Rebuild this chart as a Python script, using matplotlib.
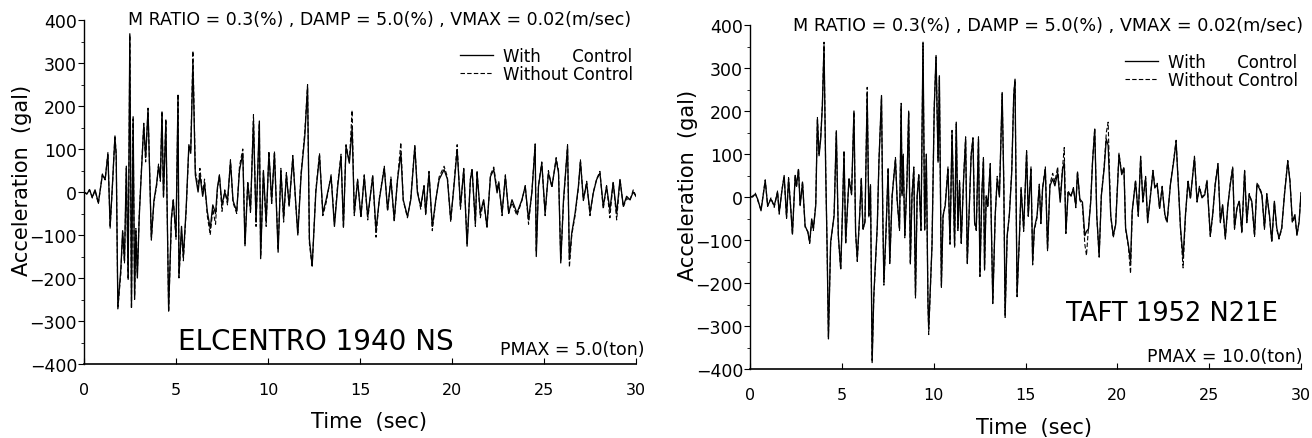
import matplotlib
matplotlib.use("Agg")
import matplotlib.pyplot as plt
from matplotlib.ticker import MultipleLocator

plt.rcParams["font.family"] = "DejaVu Sans"

# ---- ELCENTRO 1940 NS : tiempo (sec), aceleracion (gal) ----
t_el = [0.0, 0.15, 0.3, 0.45, 0.6, 0.78, 1.0, 1.15, 1.3, 1.42,
        1.55, 1.68, 1.75, 1.84, 2.0, 2.1, 2.2, 2.3, 2.4, 2.49,
        2.58, 2.67, 2.75, 2.82, 2.9, 3.0, 3.1, 3.25, 3.35, 3.48,
        3.56, 3.66, 3.8, 3.95, 4.05, 4.15, 4.24, 4.32, 4.45, 4.6,
        4.75, 4.85, 5.0, 5.11, 5.16, 5.3, 5.4, 5.55, 5.7, 5.8,
        5.92, 6.05, 6.2, 6.3, 6.45, 6.55, 6.7, 6.86, 7.0, 7.15,
        7.25, 7.36, 7.5, 7.65, 7.8, 7.96, 8.1, 8.3, 8.45, 8.63,
        8.75, 8.9, 9.05, 9.21, 9.35, 9.53, 9.6, 9.75, 9.9, 10.05,
        10.2, 10.35, 10.55, 10.7, 10.85, 11.0, 11.15, 11.35, 11.5, 11.62,
        11.8, 12.0, 12.15, 12.25, 12.4, 12.6, 12.8, 12.98, 13.16, 13.43,
        13.61, 13.79, 13.97, 14.1, 14.24, 14.42, 14.57, 14.69, 14.87, 15.05,
        15.23, 15.42, 15.69, 15.87, 16.05, 16.32, 16.5, 16.68, 16.86, 17.04,
        17.22, 17.35, 17.58, 17.76, 17.98, 18.12, 18.3, 18.48, 18.57, 18.75,
        18.93, 19.12, 19.3, 19.57, 19.75, 19.93, 20.1, 20.28, 20.46, 20.64,
        20.82, 21.0, 21.09, 21.27, 21.36, 21.54, 21.72, 21.9, 22.09, 22.27,
        22.45, 22.54, 22.72, 22.9, 23.08, 23.26, 23.53, 23.8, 23.98, 24.16,
        24.34, 24.52, 24.58, 24.7, 24.88, 25.06, 25.24, 25.43, 25.66, 25.79,
        25.91, 26.06, 26.28, 26.38, 26.51, 26.69, 26.87, 26.98, 27.14, 27.32,
        27.5, 27.68, 27.86, 28.04, 28.22, 28.4, 28.58, 28.76, 28.95, 29.13,
        29.31, 29.49, 29.67, 29.85, 30.0]
el_con = [0, -5, 5, -12, 5, -25, 40, 30, 88, -80,
          20, 128, 85, -268, -180, -90, -160, 60, -200, 368,
          -268, 175, -245, -90, -200, -60, 30, 155, 80, 192,
          60, -108, -20, 20, 60, 30, 185, -10, 165, -275,
          -60, -20, -100, 225, -195, -80, -150, -40, 110, 90,
          300, 40, 0, 40, -10, 20, -45, -85, -30, -50,
          10, 38, -30, 0, -20, 70, -20, -45, 50, 90,
          -125, 20, -40, 165, -70, 165, -155, 50, -70, 90,
          -20, 90, -140, 50, -60, 40, -30, 80, -20, -100,
          40, 130, 245, -110, -172, 0, 85, -49, -18, 36,
          -80, 13, 83, -80, 106, 67, 150, -49, 27, -57,
          36, -57, 36, -88, -18, 56, -41, 29, -64, 29,
          90, -18, -57, -18, 106, -2, -33, 13, -49, 44,
          -80, -18, 29, 52, 30, -64, 10, 98, -33, 52,
          -126, 29, 52, -72, 44, -49, -18, -80, 36, 52,
          -2, 21, -49, 36, -49, -18, -49, -18, 13, -64,
          -2, 110, -150, 13, 67, -49, 44, 13, 75, 44,
          -165, -18, 106, -157, -95, -49, 13, 71, -18, 21,
          -49, -2, 29, 44, -33, 13, -41, 21, -49, 29,
          -33, -10, -18, 0, -10]
el_sin = [0, -4, 6, -14, 4, -28, 42, 28, 92, -84,
          18, 132, 90, -272, -190, -95, -165, 55, -205, 365,
          -272, 170, -250, -85, -190, -55, 35, 160, 70, 195,
          65, -112, -25, 15, 65, 25, 188, -15, 170, -280,
          -70, -15, -110, 228, -200, -90, -160, -45, 105, 95,
          328, 50, 10, 55, -5, 30, -55, -100, -40, -75,
          5, 40, -45, 5, -30, 75, -25, -50, 60, 100,
          -120, 25, -50, 180, -80, 160, -150, 45, -80, 95,
          -30, 95, -135, 55, -70, 45, -35, 85, -25, -95,
          45, 140, 250, -120, -175, 5, 90, -55, -25, 40,
          -75, 20, 88, -85, 110, 70, 190, -55, 30, -60,
          40, -65, 40, -105, -15, 60, -45, 35, -70, 30,
          115, -20, -60, -15, 108, 5, -40, 15, -55, 48,
          -90, -20, 35, 60, 35, -70, 15, 110, -40, 55,
          -120, 30, 55, -80, 50, -60, -20, -85, 40, 58,
          5, 25, -55, 40, -50, -25, -55, -20, 15, -75,
          0, 112, -140, 15, 70, -55, 50, 10, 80, 50,
          -160, -25, 110, -175, -100, -55, 10, 75, -20, 25,
          -55, 0, 30, 48, -40, 15, -60, 25, -65, 30,
          -35, -15, -20, 5, -10]

# ---- TAFT 1952 N21E ----
t_taft = [0.0, 0.14, 0.29, 0.42, 0.6, 0.83, 0.96, 1.14, 1.32, 1.5,
          1.59, 1.74, 1.86, 1.99, 2.1, 2.22, 2.31, 2.46, 2.53, 2.64,
          2.73, 2.86, 3.0, 3.15, 3.25, 3.36, 3.45, 3.58, 3.67, 3.76,
          3.85, 3.94, 4.03, 4.12, 4.2, 4.27, 4.39, 4.58, 4.7, 4.81,
          4.94, 5.03, 5.12, 5.21, 5.3, 5.39, 5.53, 5.66, 5.75, 5.84,
          5.97, 6.06, 6.15, 6.26, 6.38, 6.47, 6.56, 6.65, 6.74, 6.93,
          7.02, 7.16, 7.23, 7.29, 7.41, 7.52, 7.61, 7.74, 7.92, 8.01,
          8.14, 8.23, 8.28, 8.34, 8.43, 8.55, 8.64, 8.73, 8.82, 8.92,
          9.01, 9.1, 9.19, 9.31, 9.42, 9.51, 9.6, 9.69, 9.73, 9.91,
          10.03, 10.13, 10.24, 10.31, 10.42, 10.51, 10.63, 10.78, 10.89, 11.0,
          11.14, 11.23, 11.32, 11.41, 11.5, 11.63, 11.74, 11.83, 11.95, 12.04,
          12.14, 12.23, 12.32, 12.44, 12.52, 12.62, 12.71, 12.77, 12.86, 12.95,
          13.08, 13.22, 13.35, 13.46, 13.58, 13.73, 13.82, 13.89, 14.0, 14.12,
          14.25, 14.36, 14.43, 14.54, 14.67, 14.76, 14.9, 15.06, 15.15, 15.3,
          15.39, 15.48, 15.63, 15.75, 15.84, 15.93, 16.08, 16.2, 16.33, 16.48,
          16.6, 16.75, 16.89, 17.02, 17.11, 17.2, 17.32, 17.47, 17.61, 17.74,
          17.83, 17.96, 18.1, 18.23, 18.32, 18.43, 18.55, 18.65, 18.77, 18.88,
          19.01, 19.13, 19.28, 19.4, 19.5, 19.64, 19.78, 19.91, 20.09, 20.24,
          20.36, 20.45, 20.6, 20.72, 20.81, 20.99, 21.14, 21.27, 21.39, 21.54,
          21.65, 21.81, 21.94, 22.04, 22.17, 22.3, 22.44, 22.59, 22.71, 22.89,
          23.07, 23.2, 23.31, 23.44, 23.58, 23.71, 23.85, 23.98, 24.2, 24.34,
          24.47, 24.61, 24.76, 24.88, 25.06, 25.19, 25.33, 25.48, 25.61, 25.73,
          25.88, 26.02, 26.15, 26.28, 26.38, 26.51, 26.64, 26.78, 26.93, 27.05,
          27.18, 27.32, 27.47, 27.6, 27.72, 27.87, 28.01, 28.14, 28.28, 28.41,
          28.55, 28.68, 28.8, 28.95, 29.1, 29.28, 29.4, 29.53, 29.67, 29.78,
          29.9, 30.0]
taft_con = [0, 0, 7, -5, -32, 38, -20, -5, -20, 11,
            -36, 15, 50, -47, 42, -28, -86, 50, 26, 64,
            -20, 34, -67, -82, -105, -51, -74, -20, 181, 96,
            135, 212, 352, 65, -121, -330, -105, -43, 154, -90,
            -167, -43, 104, -105, -28, 42, 7, 200, -82, -144,
            -43, 42, -74, -59, 240, -43, 26, -385, -229, -67,
            81, 236, -43, -198, -74, 65, -152, 3, 88, -5,
            -74, 212, 3, 96, -90, 42, 197, -152, 3, 65,
            -229, 3, 50, -74, 360, -74, 96, -245, -307, -113,
            205, 329, 81, 282, -206, -43, -20, 65, -105, 150,
            -113, 174, -74, 34, -105, 42, 135, -152, -12, 96,
            135, -59, -74, 135, -183, 3, 88, -167, 3, -20,
            73, -245, -43, 42, 0, 243, 26, -276, -90, -43,
            57, 236, 274, -229, -90, 19, -74, 104, -43, 65,
            -152, -74, -43, 26, -59, 19, 65, -121, 26, 42,
            26, 57, -12, 65, 80, -82, 11, 3, 19, -20,
            57, -5, -12, -90, -80, -74, -12, 81, 158, -43,
            -136, 3, 65, 135, 120, -43, -90, -64, 98, 52,
            67, -72, -111, -150, -33, 36, -41, 91, -10, 44,
            -57, 5, 60, 21, 29, -26, 21, -41, -57, 29,
            83, 129, 36, -72, -142, -41, 36, -2, 91, -10,
            21, -2, 5, 36, -88, -41, 29, 75, -57, -18,
            -95, -18, 29, 67, -72, -26, -10, -80, 60, -57,
            5, -10, -88, 29, 21, 5, -72, 5, -41, -103,
            -10, -72, -95, -72, 5, 83, 36, -57, -41, -88,
            -57, 10]
taft_sin = [0, 2, 9, -8, -30, 40, -22, -2, -24, 14,
            -40, 18, 48, -50, 45, -25, -88, 52, 22, 66,
            -18, 36, -70, -80, -108, -55, -78, -15, 185, 100,
            140, 215, 360, 70, -125, -325, -110, -40, 150, -95,
            -170, -40, 108, -110, -30, 45, 5, 198, -85, -150,
            -45, 45, -78, -55, 255, -48, 30, -380, -235, -70,
            85, 232, -40, -205, -78, 68, -155, 5, 92, -8,
            -78, 218, 5, 100, -95, 45, 200, -158, 5, 70,
            -235, 0, 55, -78, 358, -80, 100, -250, -320, -110,
            210, 325, 85, 278, -210, -48, -15, 70, -110, 155,
            -118, 170, -78, 38, -108, 45, 140, -155, -15, 100,
            138, -62, -78, 140, -185, 5, 92, -170, 0, -25,
            78, -248, -45, 48, 5, 240, 30, -280, -95, -40,
            60, 240, 272, -232, -95, 22, -80, 108, -45, 70,
            -158, -78, -48, 30, -62, 22, 70, -125, 30, 55,
            35, 70, -5, 70, 115, -85, 15, 0, 22, -25,
            60, -8, -20, -110, -136, -70, -10, 85, 160, -45,
            -140, 5, 70, 150, 174, -45, -95, -60, 102, 55,
            70, -75, -115, -178, -35, 40, -45, 95, -12, 48,
            -60, 8, 62, 25, 32, -28, 25, -45, -60, 30,
            88, 132, 40, -75, -165, -45, 40, -5, 95, -12,
            25, 0, 8, 40, -92, -45, 32, 78, -60, -20,
            -98, -20, 32, 70, -75, -28, -8, -85, 62, -60,
            8, -12, -92, 32, 25, 8, -75, 8, -45, -105,
            -12, -75, -98, -75, 8, 85, 38, -60, -45, -90,
            -55, 10]

titulo = "M RATIO = 0.3(%) , DAMP = 5.0(%) , VMAX = 0.02(m/sec)"
W, H = 1312, 439


def fx(px):
    return px / W


def fy(py):
    return 1 - py / H


fig = plt.figure(figsize=(13.12, 4.39), dpi=100)

ax1 = fig.add_axes([fx(84), fy(365), fx(636) - fx(84), fy(21) - fy(365)])
ax2 = fig.add_axes([fx(750), fy(370), fx(1301) - fx(750), fy(26) - fy(370)])

paneles = [
    (ax1, t_el, el_con, el_sin),
    (ax2, t_taft, taft_con, taft_sin),
]

for ax, t, con, sin in paneles:
    ax.plot(t, sin, color="black", linewidth=0.8, linestyle=(0, (4, 2)))
    ax.plot(t, con, color="black", linewidth=0.95, linestyle="-")
    ax.set_xlim(0, 30)
    ax.set_ylim(-400, 400)
    ax.xaxis.set_major_locator(MultipleLocator(5))
    ax.yaxis.set_major_locator(MultipleLocator(100))
    ax.yaxis.set_minor_locator(MultipleLocator(50))
    ax.spines["top"].set_visible(False)
    ax.spines["right"].set_visible(False)
    ax.spines["bottom"].set_linewidth(1.2)
    ax.spines["left"].set_linewidth(1.0)
    ax.tick_params(axis="x", direction="in", length=4, labelsize=11.5, pad=13)
    ax.tick_params(axis="y", which="major", direction="out", length=4,
                   labelsize=12.5, pad=1)
    ax.tick_params(axis="y", which="minor", direction="out", length=2.5)
    ax.patch.set_visible(False)

# textos
fig.text(fx(128), fy(20), titulo, fontsize=12.5, ha="left", va="center")
fig.text(fx(793), fy(26), titulo, fontsize=12.7, ha="left", va="center")

fig.text(fx(22), fy(180), "Acceleration  (gal)", fontsize=15, rotation=90,
         ha="center", va="center")
fig.text(fx(688), fy(185), "Acceleration  (gal)", fontsize=15, rotation=90,
         ha="center", va="center")
fig.text(fx(369), fy(422), "Time  (sec)", fontsize=15, ha="center", va="center")
fig.text(fx(1034), fy(428), "Time  (sec)", fontsize=15, ha="center", va="center")

fig.text(fx(316), fy(342), "ELCENTRO 1940 NS", fontsize=20, ha="center", va="center")
fig.text(fx(1172), fy(314), "TAFT 1952 N21E", fontsize=18.5, ha="center", va="center")
fig.text(fx(500), fy(350), "PMAX = 5.0(ton)", fontsize=12.5, ha="left", va="center")
fig.text(fx(1147), fy(357), "PMAX = 10.0(ton)", fontsize=12.5, ha="left", va="center")

# leyendas
for ax, x0, y0 in [(ax1, 460, 48), (ax2, 1125, 54)]:
    h1, = ax.plot([], [], color="black", linewidth=0.95)
    h2, = ax.plot([], [], color="black", linewidth=0.8, linestyle=(0, (4, 2)))
    ax.legend([h1, h2], ["With      Control", "Without Control"],
              loc="upper left", bbox_to_anchor=(fx(x0), fy(y0)),
              bbox_transform=fig.transFigure, frameon=False, fontsize=12,
              borderpad=0, borderaxespad=0, labelspacing=0.0,
              handlelength=2.0, handletextpad=0.6)

plt.savefig("out.png", dpi=100)
